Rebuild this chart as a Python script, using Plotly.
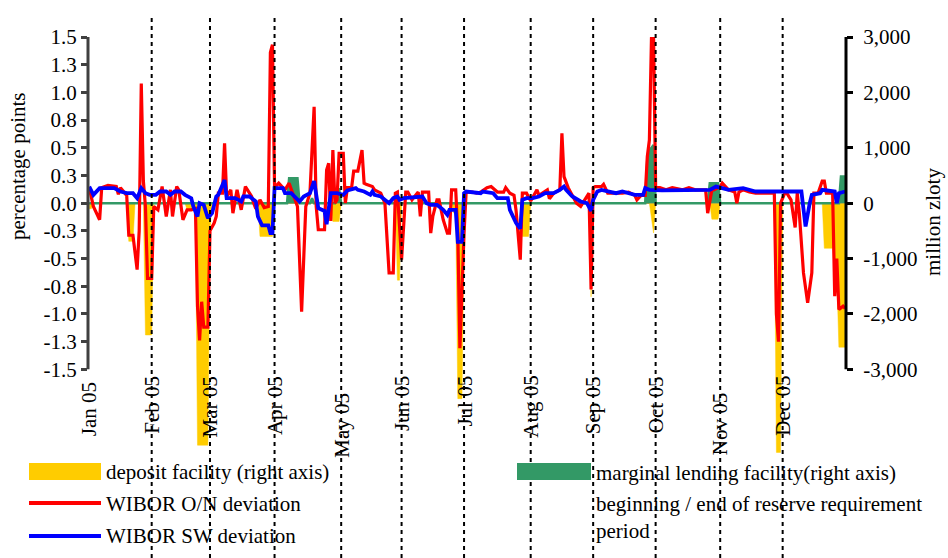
import plotly.graph_objects as go

# ---------------- data ----------------
# WIBOR O/N deviation (percentage points, left axis)
on_dates = [
    "2005-01-01", "2005-01-03", "2005-01-06", "2005-01-07", "2005-01-10", "2005-01-14", "2005-01-15",
    "2005-01-16", "2005-01-19", "2005-01-20", "2005-01-22", "2005-01-24", "2005-01-25", "2005-01-26",
    "2005-01-27", "2005-01-28", "2005-01-29", "2005-01-31", "2005-02-01", "2005-02-03", "2005-02-05",
    "2005-02-07", "2005-02-09", "2005-02-10", "2005-02-12", "2005-02-13", "2005-02-15", "2005-02-17",
    "2005-02-19", "2005-02-21", "2005-02-22", "2005-02-23", "2005-02-24", "2005-02-25", "2005-02-27",
    "2005-02-28", "2005-03-02", "2005-03-03", "2005-03-04", "2005-03-06", "2005-03-07", "2005-03-08",
    "2005-03-10", "2005-03-11", "2005-03-13", "2005-03-15", "2005-03-17", "2005-03-20", "2005-03-21",
    "2005-03-22", "2005-03-24", "2005-03-26", "2005-03-28", "2005-03-29", "2005-03-30", "2005-03-31",
    "2005-04-02", "2005-04-05", "2005-04-07", "2005-04-10", "2005-04-11", "2005-04-13", "2005-04-15",
    "2005-04-17", "2005-04-19", "2005-04-20", "2005-04-21", "2005-04-24", "2005-04-25", "2005-04-26",
    "2005-04-27", "2005-04-28", "2005-04-29", "2005-04-30", "2005-05-01", "2005-05-03", "2005-05-04",
    "2005-05-05", "2005-05-07", "2005-05-08", "2005-05-10", "2005-05-12", "2005-05-13", "2005-05-14",
    "2005-05-17", "2005-05-18", "2005-05-21", "2005-05-23", "2005-05-25", "2005-05-27", "2005-05-28",
    "2005-05-29", "2005-05-31", "2005-06-02", "2005-06-03", "2005-06-05", "2005-06-08", "2005-06-09",
    "2005-06-10", "2005-06-13", "2005-06-14", "2005-06-15", "2005-06-17", "2005-06-18", "2005-06-20",
    "2005-06-22", "2005-06-23", "2005-06-24", "2005-06-26", "2005-06-27", "2005-06-28", "2005-06-30",
    "2005-07-01", "2005-07-04", "2005-07-06", "2005-07-08", "2005-07-11", "2005-07-13", "2005-07-16",
    "2005-07-19", "2005-07-20", "2005-07-22", "2005-07-24", "2005-07-25", "2005-07-27", "2005-07-28",
    "2005-07-30", "2005-08-01", "2005-08-04", "2005-08-05", "2005-08-09", "2005-08-10", "2005-08-12",
    "2005-08-15", "2005-08-16", "2005-08-17", "2005-08-19", "2005-08-21", "2005-08-23", "2005-08-25",
    "2005-08-28", "2005-08-29", "2005-08-30", "2005-08-31", "2005-09-01", "2005-09-04", "2005-09-05",
    "2005-09-07", "2005-09-14", "2005-09-17", "2005-09-20", "2005-09-21", "2005-09-23", "2005-09-25",
    "2005-09-26", "2005-09-27", "2005-09-28", "2005-09-29", "2005-09-30", "2005-10-02", "2005-10-05",
    "2005-10-08", "2005-10-13", "2005-10-16", "2005-10-19", "2005-10-24", "2005-10-25", "2005-10-26",
    "2005-10-27", "2005-10-28", "2005-10-31", "2005-11-01", "2005-11-04", "2005-11-07", "2005-11-08",
    "2005-11-09", "2005-11-11", "2005-11-14", "2005-11-17", "2005-11-26", "2005-11-27", "2005-11-28",
    "2005-11-29", "2005-12-01", "2005-12-02", "2005-12-04", "2005-12-06", "2005-12-07", "2005-12-08",
    "2005-12-10", "2005-12-12", "2005-12-14", "2005-12-15", "2005-12-17", "2005-12-19", "2005-12-20",
    "2005-12-21", "2005-12-24", "2005-12-25", "2005-12-26", "2005-12-27", "2005-12-29", "2005-12-30",
]
on_dev = [
    0.14, -0.03, -0.15, 0.14, 0.16, 0.15, 0.08,
    0.14, 0.07, -0.29, -0.29, -0.60, -0.25, 1.08,
    0.20, -0.03, -0.68, -0.68, -0.03, -0.06, 0.15,
    -0.12, 0.12, -0.12, 0.15, 0.12, -0.15, -0.06,
    -0.06, -0.05, -0.93, -1.24, -0.89, -1.12, -1.12,
    -0.25, -0.18, -0.12, 0.09, 0.09, 0.54, 0.06,
    0.12, -0.09, 0.12, -0.06, 0.15, 0.06, 0.00,
    -0.05, 0.03, -0.04, -0.03, 1.36, 1.43, 0.14,
    0.18, 0.12, 0.18, 0.03, -0.03, -0.98, -0.03,
    0.09, 0.87, -0.03, -0.24, -0.24, 0.30, 0.36,
    -0.16, 0.48, 0.00, 0.03, 0.45, 0.45, 0.00,
    0.14, 0.14, 0.29, 0.29, 0.48, 0.18, 0.17,
    0.15, 0.12, 0.09, 0.00, -0.63, -0.63, 0.09,
    0.10, -0.51, 0.10, 0.10, 0.03, 0.10, -0.12,
    0.10, 0.10, -0.27, -0.12, 0.03, 0.03, -0.15,
    -0.27, -0.27, 0.12, 0.12, -0.27, -1.31, -0.27,
    0.10, 0.10, 0.09, 0.10, 0.14, 0.15, 0.10,
    0.10, 0.14, 0.09, 0.07, -0.07, -0.51, 0.09,
    0.09, 0.02, 0.12, 0.07, 0.12, 0.04, 0.09,
    0.12, 0.63, 0.24, 0.14, 0.07, 0.00, -0.03,
    0.06, 0.09, -0.78, 0.14, 0.15, 0.15, 0.17,
    0.09, 0.09, 0.10, 0.07, 0.03, 0.07, 0.07,
    0.42, 0.57, 1.49, 1.50, 0.14, 0.14, 0.12,
    0.14, 0.12, 0.14, 0.12, 0.12, -0.09, 0.02,
    0.12, 0.12, 0.15, 0.18, 0.12, 0.10, 0.00,
    0.10, 0.12, 0.10, 0.09, 0.09, -1.00, -1.25,
    0.00, 0.09, 0.09, 0.03, -0.22, 0.09, -0.09,
    -0.63, -0.90, -0.63, 0.09, 0.09, 0.20, 0.20,
    0.09, 0.09, -0.84, -0.50, -0.96, -0.93, -0.95,
]

# WIBOR SW deviation (percentage points, left axis)
sw_dates = [
    "2005-01-01", "2005-01-03", "2005-01-06", "2005-01-13", "2005-01-16", "2005-01-19", "2005-01-22",
    "2005-01-24", "2005-01-26", "2005-01-28", "2005-01-30", "2005-02-02", "2005-02-04", "2005-02-07",
    "2005-02-09", "2005-02-11", "2005-02-14", "2005-02-16", "2005-02-19", "2005-02-20", "2005-02-22",
    "2005-02-23", "2005-02-25", "2005-02-27", "2005-03-01", "2005-03-03", "2005-03-04", "2005-03-06",
    "2005-03-07", "2005-03-08", "2005-03-12", "2005-03-15", "2005-03-16", "2005-03-19", "2005-03-22",
    "2005-03-23", "2005-03-25", "2005-03-28", "2005-03-29", "2005-03-30", "2005-03-31", "2005-04-04",
    "2005-04-05", "2005-04-08", "2005-04-11", "2005-04-12", "2005-04-14", "2005-04-17", "2005-04-19",
    "2005-04-21", "2005-04-24", "2005-04-25", "2005-04-27", "2005-04-30", "2005-05-03", "2005-05-05",
    "2005-05-09", "2005-05-10", "2005-05-13", "2005-05-16", "2005-05-17", "2005-05-18", "2005-05-21",
    "2005-05-24", "2005-05-25", "2005-05-27", "2005-05-29", "2005-05-30", "2005-06-01", "2005-06-10",
    "2005-06-12", "2005-06-14", "2005-06-17", "2005-06-18", "2005-06-20", "2005-06-22", "2005-06-23",
    "2005-06-26", "2005-06-27", "2005-06-29", "2005-06-30", "2005-07-01", "2005-07-08", "2005-07-09",
    "2005-07-14", "2005-07-16", "2005-07-21", "2005-07-22", "2005-07-25", "2005-07-27", "2005-07-28",
    "2005-07-30", "2005-08-02", "2005-08-05", "2005-08-08", "2005-08-12", "2005-08-15", "2005-08-17",
    "2005-08-18", "2005-08-21", "2005-08-25", "2005-08-28", "2005-08-30", "2005-08-31", "2005-09-02",
    "2005-09-04", "2005-09-11", "2005-09-14", "2005-09-17", "2005-09-20", "2005-09-24", "2005-09-25",
    "2005-09-27", "2005-10-03", "2005-10-26", "2005-10-29", "2005-11-01", "2005-11-04", "2005-11-11",
    "2005-11-17", "2005-12-09", "2005-12-10", "2005-12-11", "2005-12-13", "2005-12-14", "2005-12-18",
    "2005-12-19", "2005-12-25", "2005-12-26", "2005-12-27", "2005-12-30",
]
sw_dev = [
    0.15, 0.075, 0.136, 0.136, 0.105, 0.09, 0.09,
    0.045, 0.136, 0.09, 0.075, 0.075, 0.105, 0.105,
    0.075, 0.105, 0.105, 0.075, 0.045, -0.03, -0.12,
    0.0, -0.015, -0.135, -0.09, 0.06, 0.075, 0.18,
    0.21, 0.045, 0.045, 0.015, 0.06, 0.06, 0.015,
    -0.12, -0.20, -0.20, -0.27, -0.27, 0.136, 0.136,
    0.09, 0.09, 0.03, 0.015, 0.06, 0.09, 0.20,
    -0.045, -0.07, -0.19, 0.09, 0.09, 0.075, 0.115,
    0.136, 0.12, 0.105, 0.075, 0.105, 0.075, 0.06,
    0.015, 0.0, 0.045, 0.06, 0.03, 0.045, 0.06,
    0.0, -0.015, -0.015, -0.03, -0.06, -0.105, -0.06,
    -0.06, -0.35, -0.35, 0.09, 0.105, 0.09, 0.105,
    0.09, 0.045, 0.045, -0.06, -0.18, -0.23, 0.03,
    0.045, 0.045, 0.06, 0.09, 0.09, 0.12, 0.15,
    0.12, 0.06, 0.015, 0.0, -0.07, 0.03, 0.105,
    0.12, 0.09, 0.105, 0.09, 0.075, 0.075, 0.136,
    0.12, 0.115, 0.12, 0.15, 0.136, 0.12, 0.136,
    0.105, 0.105, -0.03, -0.21, 0.0, 0.075, 0.09,
    0.12, 0.105, 0.0, 0.09, 0.105,
]

# Deposit facility (million zloty, right axis)
dep_dates = [
    "2005-01-01", "2005-01-02", "2005-01-03", "2005-01-19", "2005-01-20", "2005-01-22", "2005-01-23",
    "2005-01-27", "2005-01-28", "2005-01-31", "2005-02-01", "2005-02-16", "2005-02-17", "2005-02-21",
    "2005-02-22", "2005-02-27", "2005-02-28", "2005-03-01", "2005-03-23", "2005-03-24", "2005-03-30",
    "2005-03-31", "2005-04-27", "2005-04-28", "2005-05-01", "2005-05-02", "2005-05-28", "2005-05-29",
    "2005-05-30", "2005-05-31", "2005-06-24", "2005-06-25", "2005-06-26", "2005-06-27", "2005-06-29",
    "2005-06-30", "2005-07-01", "2005-07-27", "2005-07-28", "2005-07-31", "2005-08-01", "2005-08-29",
    "2005-08-30", "2005-08-31", "2005-09-27", "2005-09-28", "2005-09-29", "2005-09-30", "2005-10-26",
    "2005-10-27", "2005-10-30", "2005-10-31", "2005-11-26", "2005-11-27", "2005-11-29", "2005-11-30",
    "2005-12-19", "2005-12-20", "2005-12-24", "2005-12-25", "2005-12-26", "2005-12-27", "2005-12-30",
]
dep_vals = [
    -100, -100, 0, 0, -690, -690, 0,
    0, -2380, -2380, 0, 0, -120, -120,
    -4370, -4370, -500, 0, 0, -600, -600,
    0, 0, -330, -330, 0, 0, -1390,
    -1390, 0, 0, -180, -180, -3530, -3530,
    -700, 0, 0, -600, -600, 0, 0,
    -1690, 0, 0, -300, -540, 0, 0,
    -290, -290, 0, 0, -4500, -4500, 0,
    0, -815, -815, -1330, -1330, -2600, -2600,
]

# Marginal lending facility (million zloty, right axis)
mlf_dates = [
    "2005-01-01", "2005-04-06", "2005-04-07", "2005-04-11", "2005-04-12", "2005-04-17", "2005-04-18",
    "2005-04-19", "2005-04-29", "2005-04-30", "2005-05-01", "2005-05-02", "2005-09-25", "2005-09-26",
    "2005-09-27", "2005-09-29", "2005-09-30", "2005-10-25", "2005-10-26", "2005-10-30", "2005-10-31",
    "2005-12-27", "2005-12-28", "2005-12-30",
]
mlf_vals = [
    0, 0, 450, 450, 0, 0, 90,
    0, 0, 250, 250, 0, 0, 800,
    950, 1050, 0, 0, 360, 360, 0,
    0, 480, 480,
]

# Beginning / end of the reserve requirement periods
period_bounds = [
    "2005-01-31", "2005-02-28", "2005-03-31", "2005-05-02", "2005-05-31", "2005-06-30",
    "2005-08-01", "2005-08-31", "2005-09-30", "2005-10-31", "2005-11-30",
]
month_labels = ["Jan 05", "Feb 05", "Mar 05", "Apr 05", "May 05", "Jun 05",
                "Jul 05", "Aug 05", "Sep 05", "Oct 05", "Nov 05", "Dec 05"]
label_dates = ["2005-01-01"] + period_bounds

left_ticks = [-1.5, -1.25, -1.0, -0.75, -0.5, -0.25, 0.0, 0.25, 0.5, 0.75, 1.0, 1.25, 1.5]
left_tick_text = ["-1.5", "-1.3", "-1.0", "-0.8", "-0.5", "-0.3", "0.0",
                  "0.3", "0.5", "0.8", "1.0", "1.3", "1.5"]
right_ticks = [-3000, -2000, -1000, 0, 1000, 2000, 3000]
right_tick_text = ["-3,000", "-2,000", "-1,000", "0", "1,000", "2,000", "3,000"]

# ---------------- styling ----------------
YELLOW = "#FFCC00"
GREEN = "#339966"
RED = "#FF0000"
BLUE = "#0000FF"
FONT = "Liberation Serif, Times New Roman, serif"
FS = 21

W, H = 948, 558
ML, MR, MT, MB = 88, 102, 37, 103
PW, PH = W - ML - MR, H - MT - MB
BOTTOM_PX = H - MB


def px_x(p):
    return (p - ML) / PW


def px_y(p):
    return (BOTTOM_PX - p) / PH


# left axis: 1.5 at the top edge, -1.5 at y = 369 px; the area below is kept
# so the deepest facility bars can hang under the axis
pp_per_px = 3.0 / (369.3 - MT)
left_min = 1.5 - PH * pp_per_px
right_min = left_min * 2000

fig = go.Figure()

fig.add_trace(go.Scatter(
    x=dep_dates, y=dep_vals, yaxis="y", mode="lines", fill="tozeroy",
    fillcolor=YELLOW, line=dict(color=YELLOW, width=0.5),
    name="deposit facility (right axis)", showlegend=False, hoverinfo="skip"))
fig.add_trace(go.Scatter(
    x=mlf_dates, y=mlf_vals, yaxis="y", mode="lines", fill="tozeroy",
    fillcolor=GREEN, line=dict(color=GREEN, width=2.5),
    name="marginal lending facility(right axis)", showlegend=False, hoverinfo="skip"))
fig.add_trace(go.Scatter(
    x=on_dates, y=on_dev, yaxis="y2", mode="lines",
    line=dict(color=RED, width=3.2), name="WIBOR O/N deviation", showlegend=False))
fig.add_trace(go.Scatter(
    x=sw_dates, y=sw_dev, yaxis="y2", mode="lines",
    line=dict(color=BLUE, width=3.8), name="WIBOR SW deviation", showlegend=False))

shapes = []
# axis spines limited to the labelled range
shapes.append(dict(type="line", xref="paper", yref="y2", x0=0, x1=0, y0=-1.5, y1=1.5,
                   line=dict(color="#404040", width=3)))
shapes.append(dict(type="line", xref="paper", yref="y", x0=1, x1=1, y0=-3000, y1=3000,
                   line=dict(color="black", width=3)))
# reserve requirement period markers
for d in period_bounds:
    shapes.append(dict(type="line", xref="x", yref="paper", x0=d, x1=d,
                       y0=px_y(H), y1=px_y(14), layer="above",
                       line=dict(color="black", width=2, dash="4px,4px")))

# legend keys
shapes.append(dict(type="rect", xref="paper", yref="paper", x0=px_x(29), x1=px_x(101),
                   y0=px_y(480), y1=px_y(463), fillcolor=YELLOW, line=dict(width=0)))
shapes.append(dict(type="rect", xref="paper", yref="paper", x0=px_x(517), x1=px_x(591),
                   y0=px_y(480), y1=px_y(463), fillcolor=GREEN, line=dict(width=0)))
shapes.append(dict(type="line", xref="paper", yref="paper", x0=px_x(29), x1=px_x(101),
                   y0=px_y(503), y1=px_y(503), line=dict(color=RED, width=4)))
shapes.append(dict(type="line", xref="paper", yref="paper", x0=px_x(29), x1=px_x(101),
                   y0=px_y(536), y1=px_y(536), line=dict(color=BLUE, width=4)))

annotations = []
# month labels under the plot
label_top = {"Jan 05": 380, "May 05": 391, "Nov 05": 391}
for lab, d in zip(month_labels, label_dates):
    annotations.append(dict(x=d, xref="x", y=px_y(label_top.get(lab, 374)), yref="paper",
                            text=lab, textangle=-90, showarrow=False,
                            xanchor="center", yanchor="top",
                            font=dict(family=FONT, size=FS, color="black")))
# axis titles
annotations.append(dict(x=px_x(18), y=px_y(166), xref="paper", yref="paper",
                        text="percentage points", textangle=-90, showarrow=False,
                        xanchor="center", yanchor="middle",
                        font=dict(family=FONT, size=FS, color="black")))
annotations.append(dict(x=px_x(933), y=px_y(222), xref="paper", yref="paper",
                        text="million zloty", textangle=-90, showarrow=False,
                        xanchor="center", yanchor="middle", borderpad=0,
                        font=dict(family=FONT, size=FS, color="black")))
# legend texts
legend_items = [
    ("deposit facility (right axis)", 104, 472),
    ("WIBOR O/N deviation", 104, 504),
    ("WIBOR SW deviation", 104, 536),
    ("marginal lending facility(right axis)", 594, 473),
    ("beginning / end of reserve requirement<br>period", 594, 517),
]
for txt, lx, ly in legend_items:
    annotations.append(dict(x=px_x(lx), y=px_y(ly), xref="paper", yref="paper",
                            text=txt, showarrow=False, xanchor="left", yanchor="middle",
                            align="left",
                            font=dict(family=FONT, size=FS, color="black")))

fig.update_layout(
    width=W, height=H, autosize=False,
    margin=dict(l=ML, r=MR, t=MT, b=MB, pad=0),
    paper_bgcolor="white", plot_bgcolor="white",
    font=dict(family=FONT, size=FS, color="black"),
    showlegend=False,
    xaxis=dict(type="date", range=["2004-12-31 10:00", "2005-12-30 10:00"],
               showgrid=False, zeroline=False, showline=False,
               showticklabels=False, ticks="", automargin=False),
    yaxis=dict(range=[right_min, 3000], side="right", anchor="x",
               tickmode="array", tickvals=right_ticks, ticktext=right_tick_text,
               ticks="outside", ticklen=6, tickwidth=3, tickcolor="black",
               showgrid=False, zeroline=False, showline=False, automargin=False,
               ticklabelstandoff=6,
               tickfont=dict(family=FONT, size=FS, color="black")),
    yaxis2=dict(range=[left_min, 1.5], side="left", overlaying="y", anchor="x",
                tickmode="array", tickvals=left_ticks, ticktext=left_tick_text,
                ticks="outside", ticklen=6, tickwidth=3, tickcolor="#404040",
                showgrid=False, zeroline=True, zerolinecolor="#909090", zerolinewidth=1,
                showline=False, automargin=False,
                tickfont=dict(family=FONT, size=FS, color="black")),
    shapes=shapes,
    annotations=annotations,
)

fig.write_html("out.html")
